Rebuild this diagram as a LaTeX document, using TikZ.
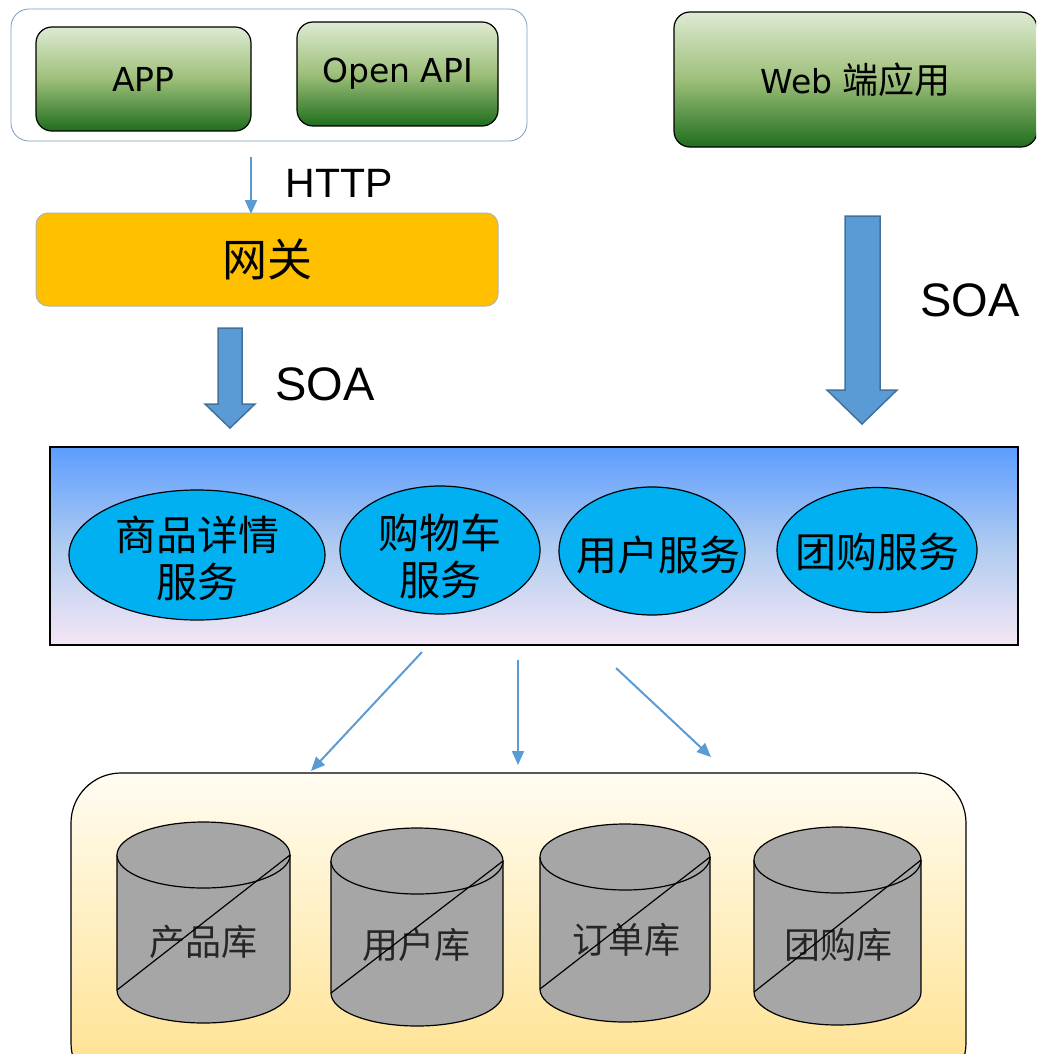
\documentclass[tikz,border=0pt]{standalone}
\usepackage{fontspec}
\setmainfont{DejaVu Sans}
\newfontfamily\cjk{Noto Sans CJK SC}
\newfontfamily\arialf{Liberation Sans}
\usetikzlibrary{arrows.meta,shapes.geometric}
\definecolor{gtop}{HTML}{DDEAD2}
\definecolor{gmid}{HTML}{9DBF7A}
\definecolor{gbot}{HTML}{1F6E1C}
\definecolor{grpline}{HTML}{7A9CC0}
\definecolor{gate}{HTML}{FFC000}
\definecolor{arrowblue}{HTML}{5B9BD5}
\definecolor{arrowline}{HTML}{41719C}
\definecolor{svctop}{HTML}{5C9DFF}
\definecolor{svcmid}{HTML}{AFCBF0}
\definecolor{svcbot}{HTML}{F5E6F5}
\definecolor{svcblue}{HTML}{00B0F0}
\definecolor{dbtop}{HTML}{FFFCF2}
\definecolor{dbbot}{HTML}{FFE08A}
\definecolor{dbgray}{HTML}{A6A6A6}
\begin{document}
\begin{tikzpicture}[x=1pt,y=-1pt,
  greenbox/.style={draw=black, line width=1.2pt, rounded corners=16pt,
    top color=gtop, bottom color=gbot, middle color=gmid, inner sep=0pt,
    font=\fontsize{33}{36}\selectfont},
  grpbox/.style={draw=grpline, line width=0.8pt, rounded corners=18pt, fill=white, inner sep=0pt},
  svc/.style={ellipse, draw=black, line width=1.2pt, fill=svcblue, inner sep=0pt},
  svctext/.style={align=center, font=\cjk\fontsize{41}{47}\selectfont},
  dblabel/.style={font=\cjk\fontsize{36}{40}\selectfont, text=black!85},
  thinarrow/.style={draw=arrowblue, line width=2pt, -{Triangle[length=14pt,width=12pt]}},
  blockarrow/.style={fill=arrowblue, draw=arrowline, line width=1.5pt, line join=miter},
  soa/.style={font=\arialf\fontsize{47}{47}\selectfont},
]
\useasboundingbox (0,0) rectangle (1036,1054);
\clip (0,0) rectangle (1036,1054);

% top-left group
\node[grpbox, minimum width=516pt, minimum height=132pt] (grp) at (269,75) {};
\node[greenbox, minimum width=215pt, minimum height=104pt] (app) at (143.5,79) {APP};
\node[greenbox, minimum width=201pt, minimum height=104pt] (oapi) at (397.5,74) {Open API};

% web app
\node[greenbox, minimum width=363pt, minimum height=135pt] (web) at (855.5,79.5)
  {Web {\cjk\fontsize{36}{36}\selectfont 端应用}};

% HTTP arrow
\coordinate (h1) at (251,157);
\coordinate (h2) at (251,214);
\draw[thinarrow] (h1) -- (h2);
\node[font=\arialf\fontsize{41}{41}\selectfont] (http) at (339,183) {HTTP};

% gateway
\node[draw=black!30, line width=1pt, fill=gate, rounded corners=12pt, inner sep=0pt,
  minimum width=462pt, minimum height=93pt, font=\cjk\fontsize{45}{45}\selectfont]
  (gw) at (267,259.5) {网关};

% block arrows
\draw[blockarrow] (218,328) -- (242,328) -- (242,404) -- (255,404) -- (230,428) -- (205,404) -- (218,404) -- cycle;
\node[soa] (soa1) at (325,384) {SOA};
\draw[blockarrow] (845,216) -- (880,216) -- (880,390) -- (897,390) -- (862,424) -- (827,390) -- (845,390) -- cycle;
\node[soa] (soa2) at (970,300) {SOA};

% services container
\node[draw=black, line width=1.2pt, top color=svctop, bottom color=svcbot, middle color=svcmid,
  minimum width=968pt, minimum height=198pt, inner sep=0pt] (svcs) at (534,546) {};
\node[svc, minimum width=256pt, minimum height=130pt] (s1) at (197,555) {};
\node[svctext] (t1) at (197,558) {商品详情\\服务};
\node[svc, minimum width=200pt, minimum height=128pt] (s2) at (440,550) {};
\node[svctext] (t2) at (440,556) {购物车\\服务};
\node[svc, minimum width=186pt, minimum height=128pt] (s3) at (652,551) {};
\node[svctext] (t3) at (658,555) {用户服务};
\node[svc, minimum width=200pt, minimum height=125pt] (s4) at (877,550) {};
\node[svctext] (t4) at (877,552) {团购服务};

% thin arrows to DBs
\coordinate (a1s) at (422,652); \coordinate (a1e) at (311,771);
\coordinate (a2s) at (518,660); \coordinate (a2e) at (518,765);
\coordinate (a3s) at (616,668); \coordinate (a3e) at (711,757);
\draw[thinarrow] (a1s) -- (a1e);
\draw[thinarrow] (a2s) -- (a2e);
\draw[thinarrow] (a3s) -- (a3e);

% DB container
\node[draw=black, line width=1.2pt, rounded corners=50pt, top color=dbtop, bottom color=dbbot,
  minimum width=895pt, minimum height=320pt, inner sep=0pt] (dbs) at (518.5,933) {};

% cylinders
\foreach \n/\L/\R/\yt/\yb/\lab/\lx/\ly in {
  db1/117/290/855/990/产品库/203/942,
  db2/331/503/861/993/用户库/416/945,
  db3/540/710/857/989/订单库/626/940,
  db4/754/921/860/992/团购库/838/945}{
  \pgfmathsetmacro\cx{(\L+\R)/2}
  \pgfmathsetmacro\rx{(\R-\L)/2}
  \fill[dbgray] (\L,\yt) rectangle (\R,\yb);
  \fill[dbgray] (\cx,\yb) ellipse[x radius=\rx, y radius=33];
  \draw[line width=1.2pt] (\L,\yt) -- (\L,\yb) arc[start angle=180, end angle=0, x radius=\rx, y radius=33] -- (\R,\yt);
  \draw[line width=1.2pt, fill=dbgray] (\cx,\yt) ellipse[x radius=\rx, y radius=33];
  \node[dblabel] (\n) at (\lx,\ly) {\lab};
  \draw[line width=1.2pt] (\L,\yb) -- (\R,\yt);
}
\end{tikzpicture}
\end{document}
